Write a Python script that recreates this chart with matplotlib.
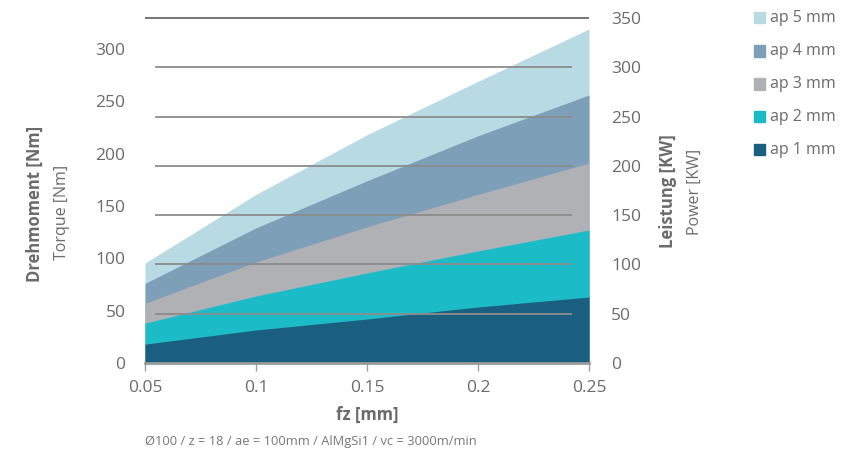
import matplotlib.pyplot as plt
import numpy as np

plt.rcParams['font.family'] = ['Open Sans', 'DejaVu Sans']

# Daten (Drehmoment in Nm)
fz = [0.05, 0.1, 0.15, 0.2, 0.25]
ap1 = [18, 31.5, 42, 53.5, 63]
ap2 = [38, 64, 86, 107, 127]
ap3 = [57, 96.5, 130, 161, 191]
ap4 = [76, 129, 174, 217, 256]
ap5 = [95.5, 161, 218, 269, 319]

labels = ['ap 1 mm', 'ap 2 mm', 'ap 3 mm', 'ap 4 mm', 'ap 5 mm']
colors = ['#1a5e80', '#1bbcc8', '#b0b1b5', '#7d9fb8', '#b8dae2']
series = [ap1, ap2, ap3, ap4, ap5]

torque_ticks = [0, 50, 100, 150, 200, 250, 300]
power_ticks = [0, 50, 100, 150, 200, 250, 300, 350]

txt = '#6b6b6b'
grid_c = '#8c8c8c'

fig = plt.figure(figsize=(8.49, 4.55), dpi=100)
W, H = 849, 455
ax = fig.add_axes([145 / W, 1 - 363 / H, (589 - 145) / W, (363 - 18) / H])

# Flaechen von hinten (ap 5) nach vorne (ap 1)
for s, c in zip(series[::-1], colors[::-1]):
    ax.fill_between(fz, 0, s, color=c, linewidth=0, zorder=1)

ax.set_xlim(0.05, 0.25)
ax.set_ylim(0, 329.5)
ax.set_xticks(fz)
ax.set_xticklabels(['0.05', '0.1', '0.15', '0.2', '0.25'])
ax.set_yticks(torque_ticks)
ax.tick_params(axis='x', colors='#a0a0a0', labelcolor=txt, labelsize=12.5, length=6, width=1, pad=6)
ax.tick_params(axis='y', length=0, labelcolor=txt, labelsize=12.5, pad=14)
for sp in ['top', 'left', 'right']:
    ax.spines[sp].set_visible(False)
ax.spines['bottom'].set_color('#9a9a9a')
ax.spines['bottom'].set_linewidth(2)
ax.spines['bottom'].set_zorder(5)

# rechte Achse: Leistung
ax2 = ax.twinx()
ax2.set_ylim(0, 350)
ax2.set_yticks(power_ticks)
ax2.tick_params(axis='y', length=0, labelcolor=txt, labelsize=12.5, pad=16)
for sp in ax2.spines.values():
    sp.set_visible(False)
# Gitterlinien auf der Leistungsskala
ax2.hlines(power_ticks[1:-1], 0.0545, 0.2423, color=grid_c, linewidth=1.3, zorder=3)
ax2.hlines(power_ticks[-1], 0.05, 0.25, color='#6b6b6b', linewidth=1.3, zorder=3, clip_on=False)
ax2.set_xlim(0.05, 0.25)

# Achsentitel
fig.text(35 / W, 1 - 204 / H, 'Drehmoment [Nm]', rotation=90, ha='center', va='center',
         fontsize=12, fontweight='bold', color=txt)
fig.text(62 / W, 1 - 212 / H, 'Torque [Nm]', rotation=90, ha='center', va='center',
         fontsize=11.5, color=txt)
fig.text(668 / W, 1 - 191 / H, 'Leistung [KW]', rotation=90, ha='center', va='center',
         fontsize=12, fontweight='bold', color=txt)
fig.text(695 / W, 1 - 192 / H, 'Power [KW]', rotation=90, ha='center', va='center',
         fontsize=11.5, color=txt)
fig.text(367 / W, 1 - 415 / H, 'fz [mm]', ha='center', va='center',
         fontsize=12, fontweight='bold', color=txt)
fig.text(145 / W, 1 - 441 / H, 'Ø100 / z = 18 / ae = 100mm / AlMgSi1 / vc = 3000m/min',
         ha='left', va='center', fontsize=9.3, color='#777777')

# Legende
for i, (lab, c) in enumerate(zip(labels[::-1], colors[::-1])):
    y = 1 - (18 + i * 33) / H
    fig.patches.append(plt.Rectangle((754 / W, y - 5.5 / H), 11 / W, 11 / H,
                                     transform=fig.transFigure, color=c, figure=fig))
    fig.text(770 / W, y, lab, ha='left', va='center', fontsize=11.5, color=txt)

fig.savefig('out.png', dpi=100)
